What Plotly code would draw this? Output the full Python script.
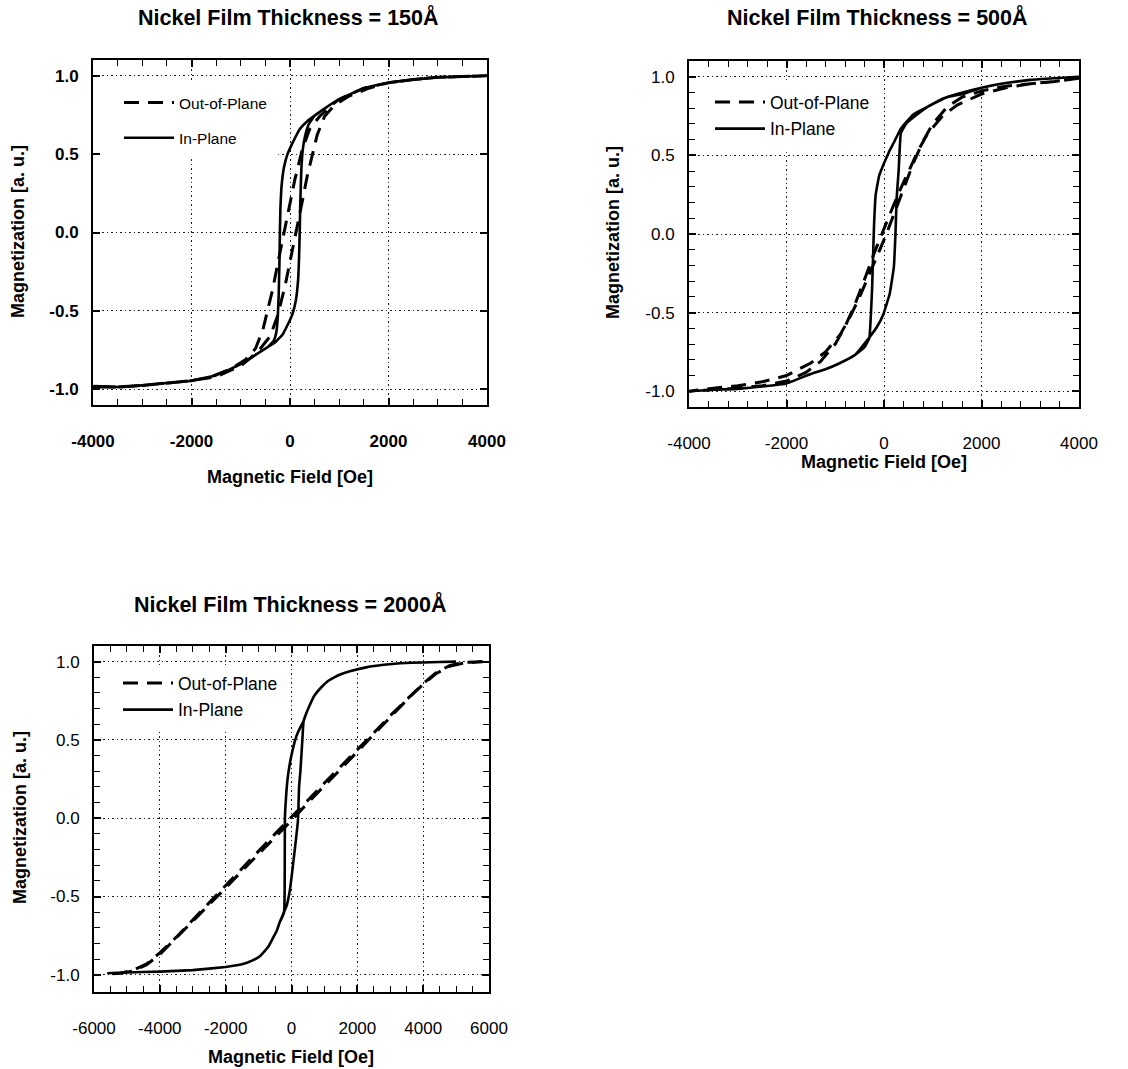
import plotly.graph_objects as go

FONT = "Liberation Sans, Arial, Helvetica, sans-serif"

# ---------------- Nickel film 150 Å ----------------
ip150_down_h = [4000, 3500, 3000, 2500, 2000, 1500, 1000, 700, 500, 350, 200, 50, -50, -120,
                -170, -195, -205, -215, -230, -250, -280, -330, -450, -700, -1000, -1500,
                -2000, -2500, -3000, -3500, -4000]
ip150_down_m = [1.0, 0.995, 0.99, 0.975, 0.955, 0.92, 0.85, 0.79, 0.745, 0.71, 0.66, 0.57, 0.50,
                0.42, 0.30, 0.15, 0.0, -0.2, -0.4, -0.55, -0.64, -0.69, -0.73, -0.78, -0.84,
                -0.91, -0.945, -0.96, -0.975, -0.985, -0.98]
ip150_up_h = [-4000, -3500, -3000, -2500, -2000, -1500, -1000, -700, -450, -300, -150, -50, 50,
              120, 165, 185, 197, 210, 230, 260, 310, 380, 500, 700, 1000, 1500, 2000, 2500,
              3000, 3500, 4000]
ip150_up_m = [-0.985, -0.985, -0.975, -0.96, -0.945, -0.91, -0.84, -0.78, -0.73, -0.70, -0.65,
              -0.59, -0.52, -0.43, -0.30, -0.15, 0.0, 0.2, 0.40, 0.53, 0.62, 0.69, 0.745, 0.79,
              0.85, 0.92, 0.955, 0.975, 0.99, 0.995, 1.0]
oop150_down_h = [4000, 3500, 3000, 2500, 2000, 1500, 1000, 800, 600, 400, 250, 100, 0, -130,
                 -250, -350, -450, -550, -700, -900, -1200, -1600, -2000, -2500, -3000, -3500,
                 -4000]
oop150_down_m = [1.0, 0.995, 0.99, 0.975, 0.955, 0.92, 0.85, 0.80, 0.74, 0.66, 0.53, 0.34, 0.19,
                 0.0, -0.2, -0.36, -0.50, -0.62, -0.74, -0.81, -0.87, -0.92, -0.945, -0.96,
                 -0.975, -0.985, -0.98]
oop150_up_h = [-4000, -3500, -3000, -2500, -2000, -1500, -1000, -800, -600, -400, -250, -100, 0,
               130, 250, 350, 450, 550, 700, 900, 1200, 1600, 2000, 2500, 3000, 3500, 4000]
oop150_up_m = [-0.98, -0.985, -0.975, -0.96, -0.945, -0.92, -0.85, -0.80, -0.74, -0.66, -0.53,
               -0.34, -0.19, 0.0, 0.2, 0.36, 0.50, 0.62, 0.74, 0.81, 0.87, 0.92, 0.955, 0.975,
               0.99, 0.995, 1.0]

# ---------------- Nickel film 500 Å ----------------
ip500_down_h = [4000, 3500, 3000, 2500, 2000, 1500, 1200, 900, 600, 345, 200, 100, 0, -100, -170,
                -205, -225, -245, -270, -300, -400, -600, -900, -1200, -1500, -2000, -2500,
                -3000, -3500, -4000]
ip500_down_m = [1.0, 0.99, 0.98, 0.96, 0.93, 0.89, 0.86, 0.81, 0.76, 0.67, 0.58, 0.52, 0.45,
                0.37, 0.25, 0.05, -0.15, -0.35, -0.52, -0.66, -0.72, -0.77, -0.82, -0.86, -0.89,
                -0.95, -0.97, -0.985, -0.99, -1.0]
ip500_up_h = [-4000, -3500, -3000, -2500, -2000, -1500, -1200, -900, -600, -306, -143, -13, 117,
              202, 235, 260, 300, 345, 450, 638, 900, 1290, 1616, 2000, 2500, 3000, 3500, 4000]
ip500_up_m = [-1.0, -0.99, -0.985, -0.97, -0.95, -0.89, -0.86, -0.82, -0.77, -0.66, -0.59, -0.51,
              -0.38, -0.21, 0.0, 0.23, 0.40, 0.64, 0.70, 0.75, 0.81, 0.87, 0.89, 0.93, 0.96,
              0.98, 0.99, 1.0]
oop500_down_h = [4000, 3500, 3000, 2500, 2000, 1500, 1200, 900, 700, 500, 300, 100, -50, -200,
                 -400, -600, -800, -1000, -1300, -1600, -2000, -2500, -3000, -3500, -4000]
oop500_down_m = [0.99, 0.97, 0.955, 0.93, 0.89, 0.82, 0.75, 0.64, 0.53, 0.40, 0.26, 0.11, 0.0,
                 -0.12, -0.29, -0.45, -0.59, -0.70, -0.81, -0.88, -0.935, -0.965, -0.98, -0.99,
                 -1.0]
oop500_up_h = [-4000, -3500, -3000, -2500, -2000, -1500, -1200, -900, -700, -500, -300, -100, 50,
               200, 400, 600, 800, 1000, 1300, 1600, 2000, 2500, 3000, 3500, 4000]
oop500_up_m = [-1.0, -0.98, -0.965, -0.94, -0.90, -0.82, -0.75, -0.64, -0.53, -0.40, -0.26,
               -0.11, 0.0, 0.12, 0.29, 0.45, 0.59, 0.70, 0.81, 0.87, 0.91, 0.94, 0.955, 0.97,
               0.99]

# ---------------- Nickel film 2000 Å ----------------
ip2000_down_h = [5000, 4000, 3300, 2800, 2300, 1800, 1500, 1300, 1100, 900, 700, 550, 450, 366,
                 280, 200, 120, 50, -50, -120, -170, -200, -205, -210, -225, -300, -350, -450,
                 -550, -700, -950, -1200, -1450, -2000, -3000, -4000, -5000, -5600]
ip2000_down_m = [1.0, 0.995, 0.99, 0.98, 0.965, 0.94, 0.92, 0.90, 0.875, 0.835, 0.785, 0.72,
                 0.67, 0.62, 0.585, 0.55, 0.505, 0.45, 0.35, 0.25, 0.12, 0.0, -0.3, -0.5, -0.60,
                 -0.64, -0.66, -0.72, -0.76, -0.82, -0.88, -0.91, -0.93, -0.95, -0.97, -0.98,
                 -0.985, -0.99]
ip2000_up_h = [-5600, -5000, -4000, -3000, -2000, -1450, -1200, -950, -700, -550, -450, -350,
               -250, -150, -50, 0, 100, 180, 200, 230, 270, 330, 366, 450, 550, 700, 900, 1100,
               1300, 1500, 1800, 2300, 2800, 3300, 4000, 5000]
ip2000_up_m = [-0.99, -0.985, -0.98, -0.97, -0.95, -0.93, -0.91, -0.88, -0.82, -0.76, -0.72,
               -0.66, -0.61, -0.56, -0.46, -0.38, -0.2, -0.05, 0.0, 0.2, 0.30, 0.50, 0.62, 0.67,
               0.72, 0.785, 0.835, 0.875, 0.90, 0.92, 0.94, 0.965, 0.98, 0.99, 0.995, 1.0]
oop2000_down_h = [5800, 5200, 4800, 4400, 4000, 3500, 3000, 2500, 2000, 1500, 1000, 500, 0, -500,
                  -1000, -1500, -2000, -2500, -3000, -3500, -4000, -4400, -4800, -5200, -5500]
oop2000_down_m = [1.0, 0.995, 0.975, 0.93, 0.86, 0.76, 0.655, 0.545, 0.44, 0.33, 0.225, 0.115,
                  0.01, -0.10, -0.21, -0.32, -0.43, -0.54, -0.65, -0.76, -0.86, -0.93, -0.97,
                  -0.99, -0.995]
oop2000_up_h = [-5500, -5200, -4800, -4400, -4000, -3500, -3000, -2500, -2000, -1500, -1000, -500,
                0, 500, 1000, 1500, 2000, 2500, 3000, 3500, 4000, 4400, 4800, 5200, 5800]
oop2000_up_m = [-0.995, -0.99, -0.975, -0.935, -0.87, -0.765, -0.66, -0.55, -0.445, -0.335,
                -0.23, -0.12, -0.015, 0.10, 0.205, 0.315, 0.425, 0.535, 0.645, 0.755, 0.855,
                0.925, 0.97, 0.99, 1.0]

# ---------------- tick labels ----------------
field_ticks_4k = [-4000, -2000, 0, 2000, 4000]
field_labels_4k = ["-4000", "-2000", "0", "2000", "4000"]
field_ticks_6k = [-6000, -4000, -2000, 0, 2000, 4000, 6000]
field_labels_6k = ["-6000", "-4000", "-2000", "0", "2000", "4000", "6000"]
mag_ticks = [-1.0, -0.5, 0.0, 0.5, 1.0]
mag_labels = ["-1.0", "-0.5", "0.0", "0.5", "1.0"]

titles = ["Nickel Film Thickness = 150Å", "Nickel Film Thickness = 500Å",
          "Nickel Film Thickness = 2000Å"]
series_names = ["Out-of-Plane", "In-Plane"]
x_title = "Magnetic Field [Oe]"
y_title = "Magnetization [a. u.]"

W, H = 1128, 1069


def px_x(v):
    return v / W


def px_y(v):
    return 1 - v / H


fig = go.Figure()

panels = [
    dict(sfx="", legend="legend",
         oop=(oop150_down_h + oop150_up_h, oop150_down_m + oop150_up_m),
         ip=(ip150_down_h + ip150_up_h, ip150_down_m + ip150_up_m)),
    dict(sfx="2", legend="legend2",
         oop=(oop500_down_h + oop500_up_h, oop500_down_m + oop500_up_m),
         ip=(ip500_down_h + ip500_up_h, ip500_down_m + ip500_up_m)),
    dict(sfx="3", legend="legend3",
         oop=(oop2000_down_h + oop2000_up_h, oop2000_down_m + oop2000_up_m),
         ip=(ip2000_down_h + ip2000_up_h, ip2000_down_m + ip2000_up_m)),
]

for i, p in enumerate(panels):
    xa, ya = "x" + p["sfx"], "y" + p["sfx"]
    fig.add_trace(go.Scatter(x=p["oop"][0], y=p["oop"][1], mode="lines", name=series_names[0],
                             xaxis=xa, yaxis=ya, legend=p["legend"], legendgroup="oop%d" % i,
                             line=dict(color="black", width=3, dash="15px,9px")))
    fig.add_trace(go.Scatter(x=p["ip"][0], y=p["ip"][1], mode="lines", name=series_names[1],
                             xaxis=xa, yaxis=ya, legend=p["legend"], legendgroup="ip%d" % i,
                             line=dict(color="black", width=2.6, shape="spline", smoothing=0.3)))


def minor_positions(lo, hi, step):
    vals = []
    n = 0
    while lo + n * step <= hi + 1e-9:
        vals.append(round(lo + n * step, 6))
        n += 1
    return vals


def axis(domain, rng, tickvals, ticktext, minor_vals, bold, anchor, standoff):
    return dict(
        domain=domain, range=rng, anchor=anchor, automargin=False,
        tickmode="array", tickvals=tickvals, ticktext=ticktext,
        ticks="inside", ticklen=7, tickwidth=1.5, tickcolor="black",
        showline=True, linecolor="black", linewidth=2, mirror="ticks",
        showgrid=True, gridcolor="#222222", gridwidth=1, griddash="1.5px,3px",
        zeroline=False, ticklabelstandoff=standoff,
        tickfont=dict(family=FONT, size=17, color="black",
                      weight="bold" if bold else "normal"),
        minor=dict(tickmode="array", tickvals=minor_vals, ticks="inside", ticklen=6,
                   tickwidth=1.3, tickcolor="black", showgrid=False),
    )


layout_axes = dict(
    xaxis=axis([px_x(93), px_x(487)], [-4000, 4000], field_ticks_4k, field_labels_4k,
               minor_positions(-4000, 4000, 500), True, "y", 20),
    yaxis=axis([px_y(405), px_y(60)], [-1.1, 1.1], mag_ticks, mag_labels,
               mag_ticks, True, "x", 9),
    xaxis2=axis([px_x(689), px_x(1079)], [-4000, 4000], field_ticks_4k, field_labels_4k,
                minor_positions(-4000, 4000, 400), False, "y2", 20),
    yaxis2=axis([px_y(407), px_y(61)], [-1.1, 1.1], mag_ticks, mag_labels,
                minor_positions(-1.0, 1.0, 0.1), False, "x2", 9),
    xaxis3=axis([px_x(94), px_x(489)], [-6000, 6000], field_ticks_6k, field_labels_6k,
                minor_positions(-6000, 6000, 500), False, "y3", 20),
    yaxis3=axis([px_y(992), px_y(646)], [-1.11, 1.1], mag_ticks, mag_labels,
                minor_positions(-1.0, 1.0, 0.1), False, "x3", 9),
)

legend_common = dict(bgcolor="white", borderwidth=0, xanchor="left", yanchor="top",
                     traceorder="grouped", itemwidth=50, itemclick=False)

annotations = []
title_pos = [(288, 17), (877, 17), (290, 604)]
xt_pos = [(290, 477), (884, 462), (291, 1057)]
yt_pos = [(18, 232), (613, 233), (20, 818)]
for t, (tx, ty) in zip(titles, title_pos):
    annotations.append(dict(text=t, x=px_x(tx), y=px_y(ty), xref="paper", yref="paper",
                            showarrow=False, xanchor="center", yanchor="middle",
                            font=dict(family=FONT, size=21.5, color="black", weight="bold")))
for (tx, ty) in xt_pos:
    annotations.append(dict(text=x_title, x=px_x(tx), y=px_y(ty), xref="paper", yref="paper",
                            showarrow=False, xanchor="center", yanchor="middle",
                            font=dict(family=FONT, size=18, color="black", weight="bold")))
for (tx, ty) in yt_pos:
    annotations.append(dict(text=y_title, x=px_x(tx), y=px_y(ty), xref="paper", yref="paper",
                            showarrow=False, xanchor="center", yanchor="middle", textangle=-90,
                            font=dict(family=FONT, size=18, color="black", weight="bold")))

# white backing behind each legend; it hides the grid there (no curve passes through it)
shapes = []
for xr, yr, x0, x1, y0, y1 in [("x domain", "y domain", 0.022, 0.47, 0.718, 0.941),
                               ("x2 domain", "y2 domain", 0.022, 0.469, 0.736, 0.945),
                               ("x3 domain", "y3 domain", 0.022, 0.475, 0.759, 0.945)]:
    shapes.append(dict(type="rect", xref=xr, yref=yr, x0=x0, x1=x1, y0=y0, y1=y1,
                       fillcolor="white", line=dict(width=0), layer="above"))

fig.update_layout(
    width=W, height=H, margin=dict(l=0, r=0, t=0, b=0, autoexpand=False),
    paper_bgcolor="white", plot_bgcolor="white",
    font=dict(family=FONT, color="black"),
    showlegend=True,
    legend=dict(x=px_x(119), y=px_y(86), font=dict(family=FONT, size=15.5, color="black"),
                tracegroupgap=12, **legend_common),
    legend2=dict(x=px_x(710), y=px_y(84), font=dict(family=FONT, size=17.5, color="black"),
                 tracegroupgap=1, **legend_common),
    legend3=dict(x=px_x(118), y=px_y(665), font=dict(family=FONT, size=17.5, color="black"),
                 tracegroupgap=1, **legend_common),
    annotations=annotations,
    shapes=shapes,
    **layout_axes,
)

fig.write_html("out.html")
